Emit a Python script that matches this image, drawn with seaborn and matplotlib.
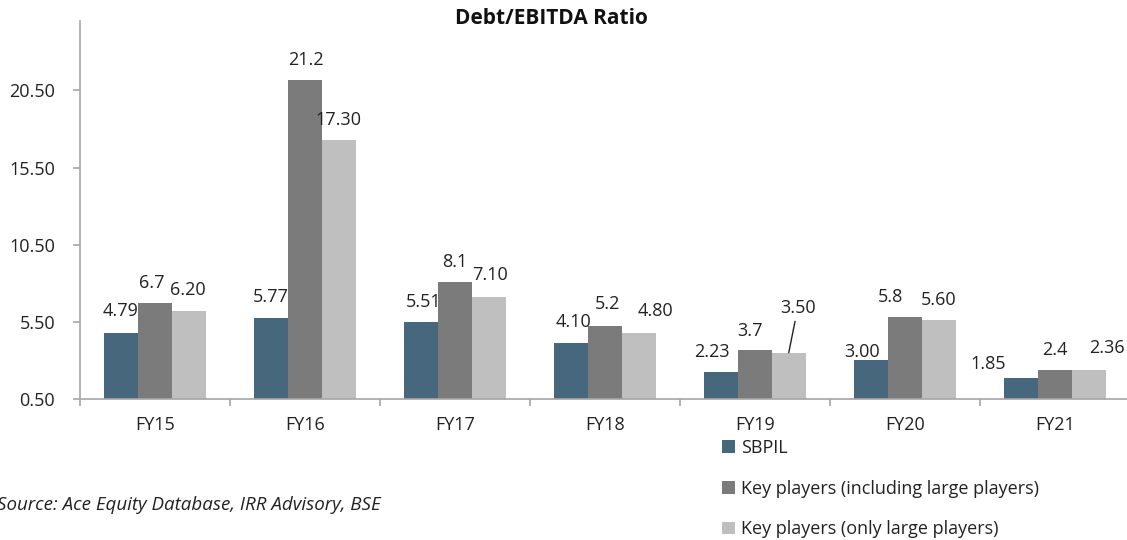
import matplotlib
matplotlib.use("Agg")
import matplotlib.pyplot as plt
import matplotlib.patches as mpatches
import numpy as np
import pandas as pd
import seaborn as sns

# Fiscal years on the x axis
years = ["FY15", "FY16", "FY17", "FY18", "FY19", "FY20", "FY21"]

# Debt/EBITDA ratio for each group
sbpil = [4.79, 5.77, 5.51, 4.10, 2.23, 3.00, 1.85]
key_incl_large = [6.7, 21.2, 8.1, 5.2, 3.7, 5.8, 2.4]
key_only_large = [6.20, 17.30, 7.10, 4.80, 3.50, 5.60, 2.36]

# Value labels as printed above the bars
sbpil_labels = ["4.79", "5.77", "5.51", "4.10", "2.23", "3.00", "1.85"]
incl_labels = ["6.7", "21.2", "8.1", "5.2", "3.7", "5.8", "2.4"]
only_labels = ["6.20", "17.30", "7.10", "4.80", "3.50", "5.60", "2.36"]

series_names = ["SBPIL",
                "Key players (including large players)",
                "Key players (only large players)"]

y_ticks = [0.50, 5.50, 10.50, 15.50, 20.50]
y_tick_labels = ["0.50", "5.50", "10.50", "15.50", "20.50"]

colors = ["#46677c", "#7b7b7b", "#bfbfbf"]

df = pd.DataFrame({
    "year": years * 3,
    "series": [series_names[0]] * 7 + [series_names[1]] * 7 + [series_names[2]] * 7,
    "ratio": sbpil + key_incl_large + key_only_large,
})

sns.set_theme(style="white")
plt.rcParams["font.family"] = ["Open Sans", "DejaVu Sans"]

FS = 13
TXT = "#222222"

fig = plt.figure(figsize=(11.27, 5.40), dpi=100)
W, H = 1127, 540
ax = fig.add_axes([80 / W, 141 / H, 1050 / W, 378 / H])

sns.barplot(data=df, x="year", y="ratio", hue="series", hue_order=series_names,
            order=years, palette=colors, width=0.675, gap=0, dodge=True,
            saturation=1, linewidth=0, legend=False, ax=ax)

ax.set_ylim(0.5, 25.0)
ax.set_xlim(-0.5, 6.5)
ax.set_xlabel("")
ax.set_ylabel("")

# Axes styling
for side in ("top", "right"):
    ax.spines[side].set_visible(False)
for side in ("left", "bottom"):
    ax.spines[side].set_color("#a6a6a6")
    ax.spines[side].set_linewidth(1.2)

ax.set_yticks(y_ticks)
ax.set_yticklabels(y_tick_labels)
ax.tick_params(axis="y", which="major", left=True, length=5, width=1.2,
               color="#a6a6a6", labelsize=FS, labelcolor=TXT, pad=13)

ax.set_xticks(range(len(years)))
ax.set_xticklabels(years)
ax.set_xticks(np.arange(-0.5, len(years) + 0.5, 1.0), minor=True)
ax.tick_params(axis="x", which="major", bottom=False, labelsize=FS,
               labelcolor=TXT, pad=6)
ax.tick_params(axis="x", which="minor", bottom=True, length=5, width=1.2,
               color="#a6a6a6")

# Per-label nudges (pixels): horizontal shift and height above bar top
label_shift = [
    [(-1, 22), (0, 21), (2, 20), (2, 21), (-9, 20), (-9, 8), (-33, 14)],
    [(-3, 20), (1, 20), (0, 20), (3, 22), (-5, 19), (-15, 20), (0, 20)],
    [(-1, 21), (0, 20), (1, 22), (17, 22), (9, 45), (0, 20), (18, 22)],
]
all_labels = [sbpil_labels, incl_labels, only_labels]

for s_idx, container in enumerate(ax.containers):
    for b_idx, bar in enumerate(container):
        x = bar.get_x() + bar.get_width() / 2
        top = bar.get_y() + bar.get_height()
        dx, dy = label_shift[s_idx][b_idx]
        text = all_labels[s_idx][b_idx]
        if dy > 35:
            # label pulled up with a leader line
            ax.annotate(text, xy=(x, top), xytext=(dx, dy),
                        textcoords="offset pixels", ha="center", va="center",
                        fontsize=FS, color=TXT,
                        arrowprops=dict(arrowstyle="-", color=TXT,
                                        lw=1.0, shrinkA=1, shrinkB=0))
        else:
            ax.annotate(text, xy=(x, top), xytext=(dx, dy),
                        textcoords="offset pixels", ha="center", va="center",
                        fontsize=FS, color=TXT)

fig.text(551 / W, 1 - 19 / H, "Debt/EBITDA Ratio", ha="center", va="center",
         fontsize=15, fontweight="bold", color="#111111")

fig.text(-3 / W, 1 - 505 / H, "Source: Ace Equity Database, IRR Advisory, BSE",
         ha="left", va="center", fontsize=13.5, fontstyle="italic",
         color=TXT)

handles = [mpatches.Patch(facecolor=c, edgecolor="none") for c in colors]
fig.legend(handles, series_names, loc="upper left",
           bbox_to_anchor=(722 / W, 1 - 439 / H), frameon=False,
           fontsize=FS, labelcolor=TXT, handlelength=0.7,
           handleheight=0.7, handletextpad=0.35, labelspacing=1.25,
           borderaxespad=0, borderpad=0)

fig.savefig("out.png", dpi=100)
